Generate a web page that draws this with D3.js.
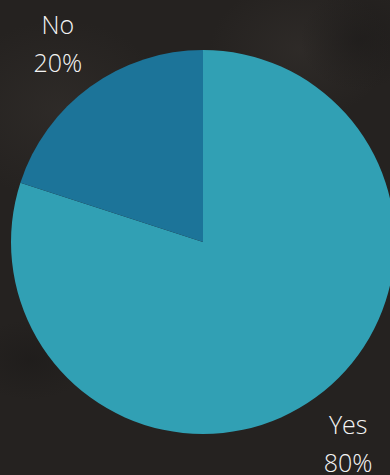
<!DOCTYPE html>
<html>
<head>
<meta charset="utf-8">
<script src="https://cdn.jsdelivr.net/npm/d3@7/dist/d3.min.js"></script>
<style>
  html, body { margin: 0; padding: 0; background: #252220; overflow: hidden; }
  svg { display: block; }
</style>
</head>
<body>
<svg id="chart" width="390" height="475"></svg>
<script>
const categories = ["Yes", "No"];
const values = [80, 20];
const percentLabels = ["80%", "20%"];
const colors = ["#31a0b4", "#1c7499"];

const W = 390, H = 475;
const cx = 203, cy = 242, radius = 192, labelRadius = 247;

const svg = d3.select("#chart");

// textured dark background approximation
const defs = svg.append("defs");
const g1 = defs.append("radialGradient").attr("id", "blob1");
g1.append("stop").attr("offset", "0%").attr("stop-color", "#34302d").attr("stop-opacity", 0.6);
g1.append("stop").attr("offset", "100%").attr("stop-color", "#34302d").attr("stop-opacity", 0);
const g2 = defs.append("radialGradient").attr("id", "blob2");
g2.append("stop").attr("offset", "0%").attr("stop-color", "#1c1a19").attr("stop-opacity", 0.6);
g2.append("stop").attr("offset", "100%").attr("stop-color", "#1c1a19").attr("stop-opacity", 0);

svg.append("rect").attr("width", W).attr("height", H).attr("fill", "#252220");
svg.append("ellipse").attr("cx", 60).attr("cy", 110).attr("rx", 110).attr("ry", 90).attr("fill", "url(#blob1)");
svg.append("ellipse").attr("cx", 300).attr("cy", 50).attr("rx", 90).attr("ry", 70).attr("fill", "url(#blob1)");
svg.append("ellipse").attr("cx", 360).attr("cy", 40).attr("rx", 60).attr("ry", 50).attr("fill", "url(#blob2)");
svg.append("ellipse").attr("cx", 30).attr("cy", 360).attr("rx", 60).attr("ry", 40).attr("fill", "url(#blob2)");

const data = categories.map((c, i) => ({ name: c, value: values[i], label: percentLabels[i], color: colors[i] }));

const pie = d3.pie().value(d => d.value).sort(null);
const arcs = pie(data);
const arc = d3.arc().innerRadius(0).outerRadius(radius);
const labelArc = d3.arc().innerRadius(labelRadius).outerRadius(labelRadius);

const g = svg.append("g").attr("transform", `translate(${cx},${cy})`);

g.selectAll("path.slice")
  .data(arcs)
  .join("path")
  .attr("class", "slice")
  .attr("d", arc)
  .attr("fill", d => d.data.color);

const labels = g.selectAll("text.lbl")
  .data(arcs)
  .join("text")
  .attr("class", "lbl")
  .attr("transform", d => `translate(${labelArc.centroid(d)})`)
  .attr("text-anchor", "middle")
  .attr("fill", "#f4f4f4")
  .style("font-family", "'Open Sans', sans-serif")
  .style("font-weight", 300)
  .style("font-size", "25px");

labels.append("tspan").attr("x", 0).attr("y", -8).text(d => d.data.name);
labels.append("tspan").attr("x", 0).attr("y", 30).text(d => d.data.label);
</script>
</body>
</html>
